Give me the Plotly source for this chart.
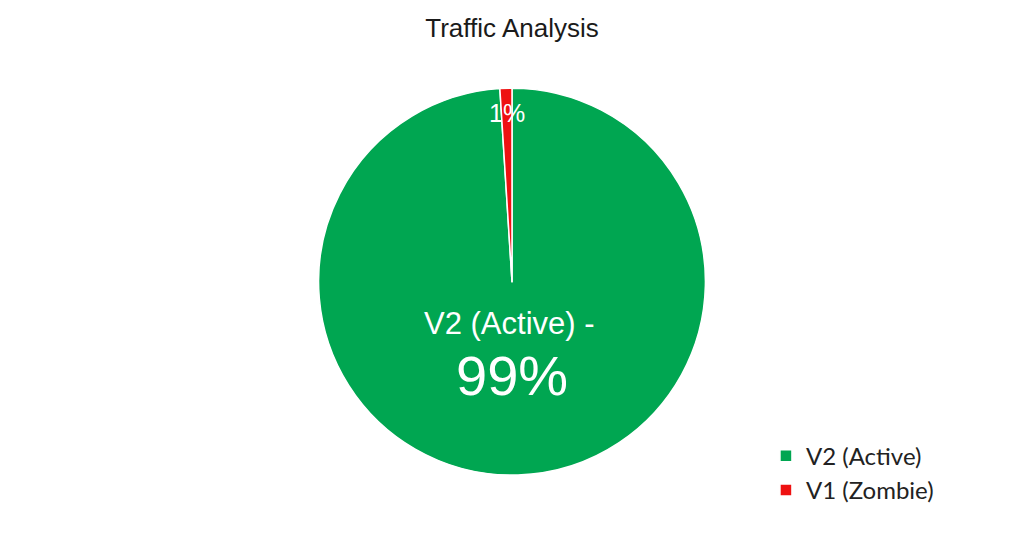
import plotly.graph_objects as go

labels = ["V2 (Active)", "V1 (Zombie)"]
values = [99, 1]
colors = ["#00A651", "#EE1111"]

fig = go.Figure(go.Pie(
    labels=labels,
    values=values,
    sort=False,
    direction="clockwise",
    rotation=0,
    marker=dict(colors=colors, line=dict(color="white", width=1.5)),
    textinfo="none",
    domain=dict(x=[0.2, 0.8], y=[0.117, 0.836]),
    hoverinfo="label+percent",
))

font_fam = "Liberation Sans, Arial"
# slice labels
fig.add_annotation(text=f"{labels[0]} -", x=0.498, y=0.398, xref="paper", yref="paper",
                   xanchor="center", yanchor="middle", showarrow=False,
                   font=dict(family=font_fam, size=31, color="white"))
fig.add_annotation(text=f"{values[0]}%", x=0.5, y=0.302, xref="paper", yref="paper",
                   xanchor="center", yanchor="middle", showarrow=False,
                   font=dict(family=font_fam, size=56, color="white"))
fig.add_annotation(text=f"{values[1]}%", x=0.495, y=0.79, xref="paper", yref="paper",
                   xanchor="center", yanchor="middle", showarrow=False,
                   font=dict(family=font_fam, size=25, color="white"))

fig.update_layout(
    width=1024, height=538,
    margin=dict(l=0, r=0, t=0, b=0),
    paper_bgcolor="white",
    title=dict(text="Traffic Analysis", x=0.5, y=0.948, xanchor="center", yanchor="middle",
               font=dict(family=font_fam, size=26, color="#1a1a1a")),
    legend=dict(x=0.748, y=0.194, xanchor="left", yanchor="top",
                font=dict(family="Lato, Open Sans", size=24, color="#222222"),
                itemwidth=30, tracegroupgap=0),
)

fig.write_html("out.html", config={"displayModeBar": False},
               post_script="document.body.style.margin='0';")
